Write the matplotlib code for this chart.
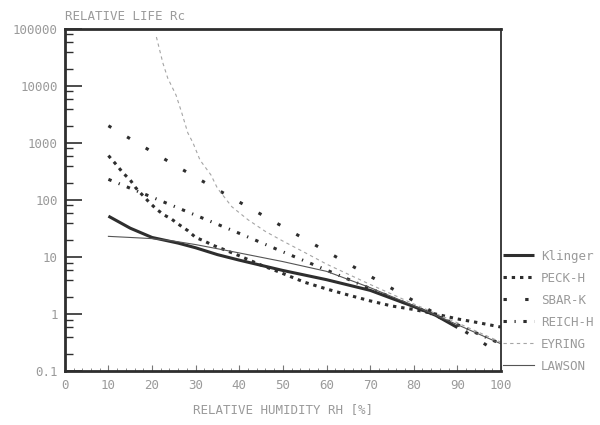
import matplotlib
matplotlib.use("Agg")
import matplotlib.pyplot as plt
from matplotlib.ticker import FixedLocator, NullFormatter

# values (relative life vs relative humidity)
rh_klinger = [10, 15, 20, 26, 30, 35, 40, 50, 60, 70, 80, 85, 90]
klinger = [52, 32, 22, 17.5, 14.5, 11, 8.8, 5.8, 4.0, 2.6, 1.35, 0.95, 0.58]

rh_peck = [10, 12, 13.3, 15, 16.3, 19.3, 21, 22.7, 24.5, 26.4, 28.2, 30, 32, 34,
           36.5, 40, 45, 49, 55, 60, 65, 70, 75, 80, 85, 90, 95, 100]
peck = [600, 400, 300, 224, 162, 92, 69, 55, 46, 36, 29, 22, 19, 16,
        13.5, 10.5, 7.2, 5.5, 3.6, 2.75, 2.15, 1.7, 1.38, 1.2, 1.0, 0.82, 0.7, 0.59]

rh_sbar = [10, 20, 30, 40, 50, 60, 70, 80, 90, 97.5]
sbar = [2000, 700, 250, 92, 34, 12.5, 4.6, 1.7, 0.6, 0.26]

rh_reich = [10, 20, 30, 40, 50, 60, 70, 80, 90, 100]
reich = [230, 112, 54, 26, 12.3, 5.9, 2.8, 1.35, 0.65, 0.30]

rh_eyring = [21, 22.5, 23.6, 25.5, 26.8, 28.2, 29.4, 31, 33.5, 35, 38.3, 42, 46,
             50, 55, 60, 70, 80, 90, 100]
eyring = [72000, 25000, 13700, 6900, 3400, 1500, 1000, 500, 275, 160, 76, 45, 28,
          19, 12, 7.5, 3.3, 1.5, 0.7, 0.32]

rh_lawson = [10, 15, 20, 25, 30, 38.5, 50, 60, 70, 80, 90, 100]
lawson = [23, 22, 21, 19, 16.5, 12.4, 8.3, 5.6, 2.9, 1.4, 0.65, 0.3]

x_ticks = list(range(0, 101, 10))
y_ticks = [0.1, 1, 10, 100, 1000, 10000, 100000]
y_labels = ["0.1", "1", "10", "100", "1000", "10000", "100000"]

ink = "#2e2e2e"
txt = "#9a9a9a"
font = "DejaVu Sans Mono"

fig = plt.figure(figsize=(6, 4.25), dpi=100)
ax = fig.add_axes([0.108, 0.127, 0.727, 0.805])

ax.plot(rh_klinger, klinger, color=ink, lw=2.2, solid_capstyle="butt", label="Klinger")
ax.plot(rh_peck, peck, color=ink, lw=2.2, dashes=(1.1, 1.6), dash_capstyle="butt", label="PECK-H")
ax.plot(rh_sbar, sbar, color=ink, lw=2.2, dashes=(1.1, 6.0), dash_capstyle="butt", label="SBAR-K")
ax.plot(rh_reich, reich, color=ink, lw=2.2, dashes=(1.1, 2.5, 0.4, 2.5), dash_capstyle="butt",
        label="REICH-H")
ax.plot(rh_eyring, eyring, color="#a5a5a5", lw=0.8, dashes=(3, 3), label="EYRING")
ax.plot(rh_lawson, lawson, color="#555555", lw=0.8, label="LAWSON")

ax.set_yscale("log")
ax.set_xlim(0, 100)
ax.set_ylim(0.1, 100000)

ax.set_xticks(x_ticks)
ax.set_xticklabels([str(v) for v in x_ticks])
ax.xaxis.set_minor_locator(FixedLocator(list(range(0, 101, 2))))
ax.set_yticks(y_ticks)
ax.set_yticklabels(y_labels)
ax.yaxis.set_minor_locator(FixedLocator([m * 10.0 ** e for e in range(-1, 5) for m in (2, 4, 6, 8)]))
ax.yaxis.set_minor_formatter(NullFormatter())

ax.tick_params(axis="y", which="major", direction="in", length=12, width=1.2, color=ink,
               labelcolor=txt, labelsize=9, pad=5)
ax.tick_params(axis="y", which="minor", direction="in", length=6, width=1.0, color=ink)
ax.tick_params(axis="x", which="major", direction="in", length=4, width=0.8, color="#777777",
               labelcolor=txt, labelsize=9, pad=6)
ax.tick_params(axis="x", which="minor", direction="in", length=2, width=0.6, color="#777777")
for lab in ax.get_xticklabels() + ax.get_yticklabels():
    lab.set_family(font)

for side in ["left", "bottom", "top"]:
    ax.spines[side].set_color(ink)
    ax.spines[side].set_linewidth(2.0)
ax.spines["right"].set_color(ink)
ax.spines["right"].set_linewidth(1.3)

fig.text(0.108, 0.945, "RELATIVE LIFE Rc", family=font, color=txt, fontsize=9, va="bottom")
ax.set_xlabel("RELATIVE HUMIDITY RH [%]", family=font, color=txt, fontsize=9, labelpad=8)

leg = ax.legend(loc="upper left", bbox_to_anchor=(1.005, 0.355), frameon=False,
                borderaxespad=0, borderpad=0, handlelength=2.5, handletextpad=0.5,
                labelspacing=0.72, prop={"family": font, "size": 9})
for t in leg.get_texts():
    t.set_color(txt)

plt.savefig("out.png", dpi=100)
